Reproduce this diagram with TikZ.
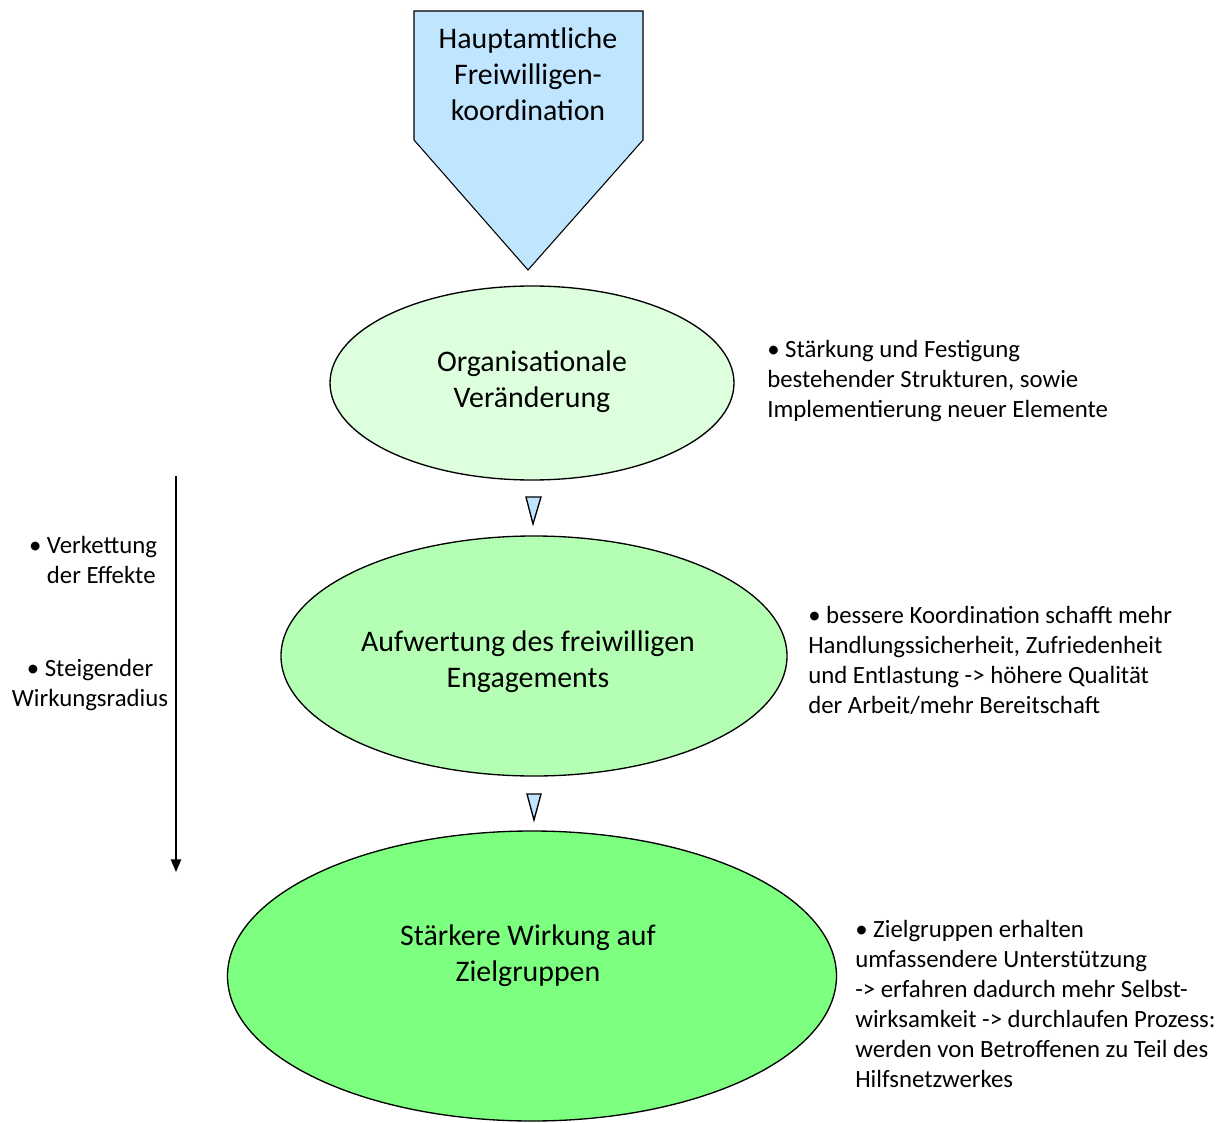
\documentclass[tikz,border=0pt]{standalone}
\usepackage{fontspec}
\setmainfont{Carlito}
\usepackage{tikz}
\usetikzlibrary{shapes}
\usetikzlibrary{arrows}
\definecolor{koordBody}{rgb}{0.75,0.9,1}
\definecolor{stufeA}{rgb}{0.87,1,0.87}
\definecolor{stufeB}{rgb}{0.71,1,0.71}
\definecolor{stufeC}{rgb}{0.49,1,0.5}
\tikzstyle{stufe} = [ellipse, draw=black, line width=1pt, inner sep=0pt]
\tikzstyle{titel} = [align=center, inner sep=0pt, font={\fontsize{22.4}{27}\selectfont}]
\tikzstyle{notiz} = [anchor=north west, align=left, inner sep=0pt, font={\fontsize{18.6}{22.5}\selectfont}]
\tikzstyle{seite} = [align=center, inner sep=0pt, font={\fontsize{18.6}{22.5}\selectfont}]
\tikzstyle{pfeilchen} = [fill=koordBody, draw=black, line width=1pt, line join=miter]

\begin{document}
\begin{tikzpicture}[x=0.75pt, y=-0.75pt]
    \useasboundingbox (0,0) rectangle (1228,1123);
    % Koordination oben
    \draw [fill=koordBody, draw=black, line width=0.8pt]
        (414,11) -- (643,11) -- (643,140) -- (528,270) -- (414,140) -- cycle;
    \node [titel] (koord) at (528,74) {Hauptamtliche\\Freiwilligen-\\koordination};
    % drei Stufen
    \node [stufe, fill=stufeA, minimum width=303pt, minimum height=145.5pt] (orga) at (532,383) {};
    \node [titel] (orgaText) at (532,382) {Organisationale\\Veränderung};
    \node [stufe, fill=stufeB, minimum width=379.5pt, minimum height=180pt] (aufw) at (534,656) {};
    \node [titel] (aufwText) at (528,662) {Aufwertung des freiwilligen\\Engagements};
    \node [stufe, fill=stufeC, minimum width=456.75pt, minimum height=217.5pt] (wirkung) at (532,976) {};
    \node [titel] (wirkungText) at (528,956) {Stärkere Wirkung auf\\Zielgruppen};
    % kleine Pfeile
    \draw [pfeilchen] (526,497) -- (541,497) -- (533,524) -- cycle;
    \draw [pfeilchen] (527,794) -- (541,794) -- (534,820) -- cycle;
    % Notizen rechts
    \node [notiz] (orgaNotiz) at (767,340) {• Stärkung und Festigung\\bestehender Strukturen, sowie\\Implementierung neuer Elemente};
    \node [notiz] (aufwNotiz) at (808,606) {• bessere Koordination schafft mehr\\Handlungssicherheit, Zufriedenheit\\und Entlastung -> höhere Qualität\\der Arbeit/mehr Bereitschaft};
    \node [notiz] (wirkungNotiz) at (855,920) {• Zielgruppen erhalten\\umfassendere Unterstützung\\-> erfahren dadurch mehr Selbst-\\wirksamkeit -> durchlaufen Prozess:\\werden von Betroffenen zu Teil des\\Hilfsnetzwerkes};
    % Pfeil links
    \coordinate (pfeilOben) at (176,476);
    \coordinate (pfeilUnten) at (176,872);
    \draw [-triangle 45, line width=1.2pt] (pfeilOben) -- (pfeilUnten);
    \node [seite] (kette) at (93,560) {• Verkettung\\\hphantom{•\,}der Effekte};
    \node [seite] (radius) at (90,685) {• Steigender\\Wirkungsradius};
\end{tikzpicture}
\end{document}
